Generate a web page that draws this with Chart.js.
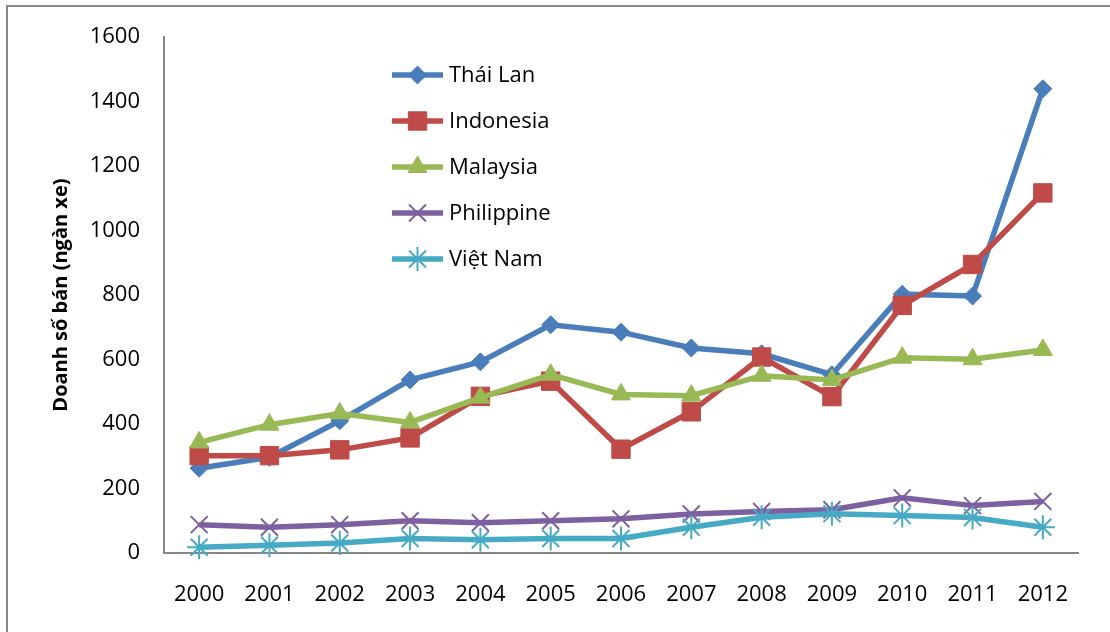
<!DOCTYPE html>
<html>
<head>
<meta charset="utf-8">
<title>Doanh số bán xe</title>
<script src="https://cdn.jsdelivr.net/npm/chart.js@4/dist/chart.umd.min.js"></script>
<style>
  html, body { margin: 0; padding: 0; background: #ffffff; overflow: hidden; }
  #wrap { position: relative; width: 1110px; height: 632px; }
</style>
</head>
<body>
<div id="wrap"><canvas id="chart" width="1110" height="632"></canvas></div>
<script>
// Years on the category axis
const years = ['2000', '2001', '2002', '2003', '2004', '2005', '2006',
               '2007', '2008', '2009', '2010', '2011', '2012'];

// Car sales by country (thousand vehicles)
const thaiLan    = [263, 297, 410, 537, 593, 708, 685, 636, 618, 553, 803, 797, 1440];
const indonesia  = [302, 302, 320, 357, 486, 533, 322, 438, 608, 485, 768, 895, 1117];
const malaysia   = [343, 398, 433, 405, 482, 553, 492, 488, 550, 537, 606, 601, 630];
const philippine = [88, 80, 88, 100, 94, 100, 106, 121, 129, 134, 171, 147, 160];
const vietNam    = [18, 24, 31, 45, 41, 45, 45, 80, 111, 122, 116, 110, 80];

// Value axis ticks
const yTicks = [0, 200, 400, 600, 800, 1000, 1200, 1400, 1600];

const seriesNames = ['Thái Lan', 'Indonesia', 'Malaysia', 'Philippine', 'Việt Nam'];
const seriesData = [thaiLan, indonesia, malaysia, philippine, vietNam];
const seriesColors = ['#4A7EBB', '#BE4B48', '#98B954', '#7D60A0', '#46AAC5'];
const seriesPoints = [
  { style: 'rectRot',  radius: 9,   border: 1 },
  { style: 'rect',     radius: 13,  border: 1 },
  { style: 'triangle', radius: 11,  border: 1 },
  { style: 'crossRot', radius: 12,  border: 2 },
  { style: 'star',     radius: 12,  border: 2 }
];

const FONT = "'Open Sans', 'DejaVu Sans', sans-serif";

const datasets = seriesData.map((d, i) => ({
  label: seriesNames[i],
  data: d,
  borderColor: seriesColors[i],
  backgroundColor: seriesColors[i],
  borderWidth: 5.5,
  tension: 0,
  pointStyle: seriesPoints[i].style,
  pointRadius: seriesPoints[i].radius,
  pointHoverRadius: seriesPoints[i].radius,
  pointBorderWidth: seriesPoints[i].border,
  pointBorderColor: seriesColors[i],
  pointBackgroundColor: seriesColors[i],
  order: seriesData.length - i,
  clip: false
}));

// Thin grey frame around the whole chart
const framePlugin = {
  id: 'frame',
  beforeDraw(chart) {
    const ctx = chart.ctx;
    ctx.save();
    ctx.fillStyle = '#ffffff';
    ctx.fillRect(0, 0, chart.width, chart.height);
    ctx.strokeStyle = '#878787';
    ctx.lineWidth = 2;
    ctx.strokeRect(7, 6, chart.width + 20, chart.height + 20);
    ctx.restore();
  }
};

// Legend drawn inside the plot: a line segment with the series marker, then the name
const insideLegend = {
  id: 'insideLegend',
  afterDraw(chart) {
    const ctx = chart.ctx;
    const x0 = 392, x1 = 443, textX = 449;
    const rows = [75, 121, 167, 213, 259];
    ctx.save();
    chart.data.datasets.forEach((ds, i) => {
      const y = rows[i];
      ctx.strokeStyle = ds.borderColor;
      ctx.lineWidth = ds.borderWidth;
      ctx.lineCap = 'butt';
      ctx.beginPath();
      ctx.moveTo(x0, y);
      ctx.lineTo(x1, y);
      ctx.stroke();
      ctx.fillStyle = ds.pointBackgroundColor;
      ctx.strokeStyle = ds.pointBorderColor;
      ctx.lineWidth = ds.pointBorderWidth;
      Chart.helpers.drawPoint(ctx, {
        pointStyle: ds.pointStyle,
        radius: ds.pointRadius,
        borderWidth: ds.pointBorderWidth,
        rotation: 0
      }, (x0 + x1) / 2, y);
      ctx.fillStyle = '#000000';
      ctx.font = "22px " + FONT;
      ctx.textAlign = 'left';
      ctx.textBaseline = 'middle';
      ctx.fillText(ds.label, textX, y + 1);
    });
    ctx.restore();
  }
};

new Chart(document.getElementById('chart'), {
  type: 'line',
  data: { labels: years, datasets: datasets },
  plugins: [framePlugin, insideLegend],
  options: {
    responsive: false,
    animation: false,
    devicePixelRatio: 1,
    layout: { padding: { top: 34, right: 32, bottom: 0, left: 0 } },
    plugins: {
      legend: { display: false },
      tooltip: { enabled: false },
      title: { display: false }
    },
    scales: {
      x: {
        type: 'category',
        offset: true,
        grid: { display: false, drawTicks: false },
        border: { display: true, color: '#878787', width: 2 },
        ticks: {
          color: '#000000',
          font: { family: FONT, size: 22 },
          padding: 29,
          maxRotation: 0,
          autoSkip: false
        },
        afterFit(scale) { scale.height = 79; }
      },
      y: {
        min: 0,
        max: 1600,
        grid: { display: false, drawTicks: false },
        border: { display: true, color: '#878787', width: 2 },
        afterBuildTicks(scale) { scale.ticks = yTicks.map(v => ({ value: v })); },
        ticks: {
          color: '#000000',
          font: { family: FONT, size: 22 },
          padding: 24,
          callback: (value) => String(value)
        },
        title: {
          display: true,
          text: 'Doanh số bán (ngàn xe)',
          color: '#000000',
          font: { family: FONT, size: 20, weight: 'bold' },
          padding: { top: 49, bottom: 0 }
        },
        afterFit(scale) { scale.width = 164; }
      }
    }
  }
});
</script>
</body>
</html>
